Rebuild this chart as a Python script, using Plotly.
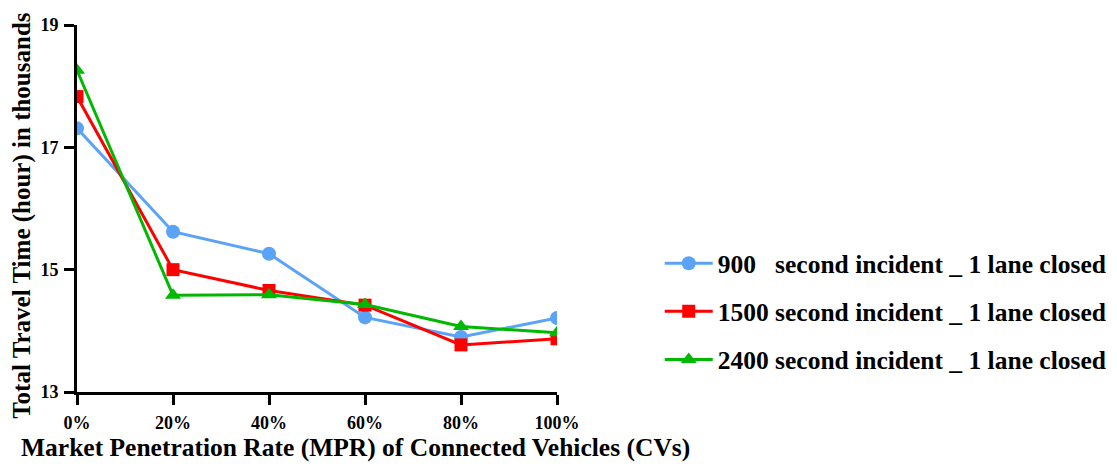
import plotly.graph_objects as go

categories = ["0%", "20%", "40%", "60%", "80%", "100%"]
series_names = [
    "900   second incident _ 1 lane closed",
    "1500 second incident _ 1 lane closed",
    "2400 second incident _ 1 lane closed",
]
vals_900 = [17.31, 15.62, 15.26, 14.22, 13.90, 14.21]
vals_1500 = [17.83, 15.00, 14.66, 14.42, 13.77, 13.87]
vals_2400 = [18.26, 14.58, 14.59, 14.43, 14.07, 13.97]
y_ticks = [13, 15, 17, 19]

colors = ["#5BA3F7", "#FF0000", "#00B800"]
symbols = ["circle", "square", "triangle-up"]
sizes = [14, 13, 14]
FONT = "Liberation Serif, Times New Roman, serif"

x_idx = list(range(len(categories)))
fig = go.Figure()
for i, (name, vals) in enumerate(zip(series_names, [vals_900, vals_1500, vals_2400])):
    fig.add_trace(go.Scatter(
        x=x_idx, y=vals, name=name, mode="lines+markers",
        line=dict(color=colors[i], width=3),
        marker=dict(symbol=symbols[i], size=sizes[i], color=colors[i]),
        legendgroup=f"g{i}",
    ))

# page body has an 8px default margin; compensate in figure size/margins
fig.update_layout(
    width=1109, height=463,
    paper_bgcolor="white", plot_bgcolor="white",
    margin=dict(l=69, r=560, t=17, b=79, autoexpand=False),
    font=dict(family=FONT, color="black", weight="bold"),
    showlegend=True,
    legend=dict(
        x=1.214, xanchor="left", y=0.219, yanchor="middle",
        font=dict(family=FONT, size=25.5, color="black", weight="bold"),
        tracegroupgap=12, itemwidth=48,
        bgcolor="rgba(0,0,0,0)",
    ),
    xaxis=dict(
        range=[0, 5], tickvals=x_idx, ticktext=categories,
        showgrid=False, zeroline=False, automargin=False,
        showline=True, linecolor="black", linewidth=3,
        ticks="outside", ticklen=10, tickwidth=3, tickcolor="black",
        ticklabelstandoff=2,
        tickfont=dict(family=FONT, size=18, weight="bold"),
    ),
    yaxis=dict(
        range=[13, 19], tickvals=y_ticks,
        showgrid=False, zeroline=False, automargin=False,
        showline=True, linecolor="black", linewidth=3,
        ticks="outside", ticklen=10, tickwidth=3, tickcolor="black",
        ticklabelstandoff=2,
        tickfont=dict(family=FONT, size=18, weight="bold"),
    ),
    annotations=[
        dict(
            text="Market Penetration Rate (MPR) of Connected Vehicles (CVs)",
            xref="paper", yref="paper", x=0.581, y=-0.15,
            xanchor="center", yanchor="middle", showarrow=False,
            font=dict(family=FONT, size=25.5, color="black", weight="bold"),
        ),
        dict(
            text="Total Travel Time (hour) in thousands",
            xref="paper", yref="paper", x=-0.1152, y=0.482,
            xanchor="center", yanchor="middle", showarrow=False, textangle=-90,
            font=dict(family=FONT, size=25, color="black", weight="bold"),
        ),
    ],
)

fig.write_html("out.html")
